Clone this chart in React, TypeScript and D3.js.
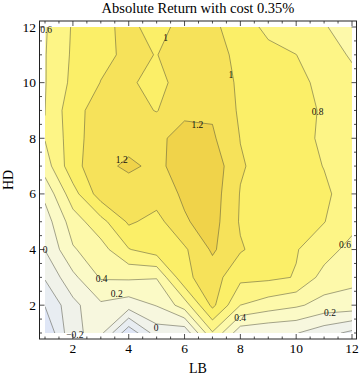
import React from "react";
import * as d3 from "d3";

// Grid axes
const lbValues = [1, 2, 3, 4, 5, 6, 7, 8, 9, 10, 11, 12];
const hdRowsTopDown = [12, 11, 10, 9, 8, 7, 6, 5, 4, 3, 2, 1];

// Absolute return values, one array per HD row (LB = 1..12)
const hd12 = [0.58, 0.82, 0.95, 1.05, 0.92, 1.08, 1.04, 0.9, 0.75, 0.68, 0.62, 0.48];
const hd11 = [0.59, 0.83, 0.95, 1.04, 0.995, 1.1, 1.06, 0.96, 0.86, 0.802, 0.68, 0.58];
const hd10 = [0.59, 0.85, 1.005, 1.03, 0.93, 1.1, 1.1, 0.97, 0.9, 0.84, 0.76, 0.65];
const hd9 = [0.598, 0.93, 1.09, 1.08, 0.99, 1.17, 1.17, 0.97, 0.92, 0.86, 0.78, 0.68];
const hd8 = [0.61, 0.9, 1.15, 1.12, 1.17, 1.25, 1.23, 0.995, 0.92, 0.86, 0.77, 0.7];
const hd7 = [0.5, 0.93, 1.14, 1.24, 1.15, 1.3, 1.33, 1.02, 0.92, 0.87, 0.795, 0.72];
const hd6 = [0.25, 0.72, 1.1, 1.08, 1.1, 1.23, 1.3, 0.99, 0.92, 0.9, 0.83, 0.72];
const hd5 = [0.1, 0.5, 0.73, 1.03, 0.93, 1.18, 1.28, 0.98, 0.92, 0.88, 0.805, 0.68];
const hd4 = [0.005, 0.38, 0.52, 0.79, 0.9, 0.97, 1.23, 1.02, 0.9, 0.81, 0.7, 0.52];
const hd3 = [-0.18, 0.15, 0.42, 0.43, 0.41, 0.96, 1.09, 0.85, 0.84, 0.79, 0.52, 0.45];
const hd2 = [-0.39, -0.06, 0.167, 0.1, 0.21, 0.5, 1.05, 0.6, 0.5, 0.43, 0.33, 0.32];
const hd1 = [-0.6, -0.03, 0.05, -0.55, -0.1, -0.15, 0.58, 0.07, 0.03, 0.01, -0.12, -0.25];

// Contour levels and band colours (lowest band first)
const levels = [-0.4, -0.2, 0, 0.2, 0.4, 0.6, 0.8, 1.0, 1.2];
const bandColors = [
  "#dfe6f6", "#e8edf2", "#f0f2ea", "#f7f7de", "#fbfac6",
  "#fdf9aa", "#fdf586", "#fbef68", "#f6e25a", "#f0d34a",
];

// Contour labels
const labelText = ["0.6", "1", "1", "0.8", "1.2", "1.2", "0.6", "0", "0.4", "0.2", "0", "\u22120.2", "0.4", "0.2"];
const labelLB = [1.04, 5.32, 7.66, 10.77, 6.46, 3.75, 11.75, 1.0, 3.03, 3.57, 4.98, 2.07, 7.99, 11.21];
const labelHD = [11.9, 11.6, 10.27, 8.95, 8.48, 7.22, 4.16, 3.98, 2.93, 2.39, 1.19, 0.93, 1.55, 1.73];

const tickMajor = [2, 4, 6, 8, 10, 12];

export default function App() {
  const W = 360, H = 380;
  const x = d3.scaleLinear().domain([1, 12]).range([45, 352]);
  const y = d3.scaleLinear().domain([1, 12]).range([333, 27]);

  const rows = [hd12, hd11, hd10, hd9, hd8, hd7, hd6, hd5, hd4, hd3, hd2, hd1];
  const n = lbValues.length, m = hdRowsTopDown.length;
  const values: number[] = [];
  rows.forEach((r) => r.forEach((v) => values.push(v)));

  const contours = d3.contours().size([n, m]).thresholds(levels)(values);

  const proj = d3.geoTransform({
    point(px: number, py: number) {
      const lb = lbValues[0] + (px - 0.5);
      const hd = hdRowsTopDown[0] - (py - 0.5);
      (this as any).stream.point(x(lb), y(hd));
    },
  });
  const path = d3.geoPath(proj);

  const frameL = 39.5, frameR = 356.5, frameT = 21, frameB = 339;
  const minor: number[] = d3.range(1, 12.01, 0.5);

  const serif = "'Liberation Serif', 'DejaVu Serif', serif";

  return (
    <svg width={W} height={H} style={{ position: "absolute", left: 0, top: 0, background: "#fff" }}>
      <defs>
        <clipPath id="plotclip">
          <rect x={x(1)} y={y(12)} width={x(12) - x(1)} height={y(1) - y(12)} />
        </clipPath>
      </defs>
      <text x={198} y={13} textAnchor="middle" fontFamily={serif} fontSize={14.5}>
        Absolute Return with cost 0.35%
      </text>
      <g clipPath="url(#plotclip)">
        <rect x={x(1)} y={y(12)} width={x(12) - x(1)} height={y(1) - y(12)} fill={bandColors[0]} />
        {contours.map((c, i) => (
          <path key={"f" + i} d={path(c as any) || ""} fill={bandColors[i + 1]} stroke="none" />
        ))}
        {contours.map((c, i) => (
          <path key={"s" + i} d={path(c as any) || ""} fill="none" stroke="#4a4a3a" strokeOpacity={0.55} strokeWidth={0.9} />
        ))}
      </g>
      {labelText.map((t, i) => (
        <text key={"l" + i} x={x(labelLB[i])} y={y(labelHD[i])} textAnchor="middle" dominantBaseline="central"
          fontFamily={serif} fontSize={9.5} fill="#111">
          {t}
        </text>
      ))}
      <rect x={frameL} y={frameT} width={frameR - frameL} height={frameB - frameT} fill="none" stroke="#222" strokeWidth={1} />
      {minor.map((v) => {
        const maj = tickMajor.includes(v);
        const len = maj ? 5 : 2.5;
        return (
          <g key={"t" + v} stroke="#222" strokeWidth={0.8}>
            <line x1={x(v)} x2={x(v)} y1={frameB} y2={frameB - len} />
            <line x1={x(v)} x2={x(v)} y1={frameT} y2={frameT + len} />
            <line x1={frameL} x2={frameL + len} y1={y(v)} y2={y(v)} />
            <line x1={frameR} x2={frameR - len} y1={y(v)} y2={y(v)} />
          </g>
        );
      })}
      {tickMajor.map((v) => (
        <text key={"bx" + v} x={x(v)} y={353} textAnchor="middle" fontFamily={serif} fontSize={13.5}>
          {v}
        </text>
      ))}
      {tickMajor.map((v) => (
        <text key={"ly" + v} x={36} y={y(v) + 4.5} textAnchor="end" fontFamily={serif} fontSize={13.5}>
          {v}
        </text>
      ))}
      <text x={198} y={373} textAnchor="middle" fontFamily={serif} fontSize={14}>LB</text>
      <text transform="translate(13,180) rotate(-90)" textAnchor="middle" fontFamily={serif} fontSize={14}>HD</text>
    </svg>
  );
}
